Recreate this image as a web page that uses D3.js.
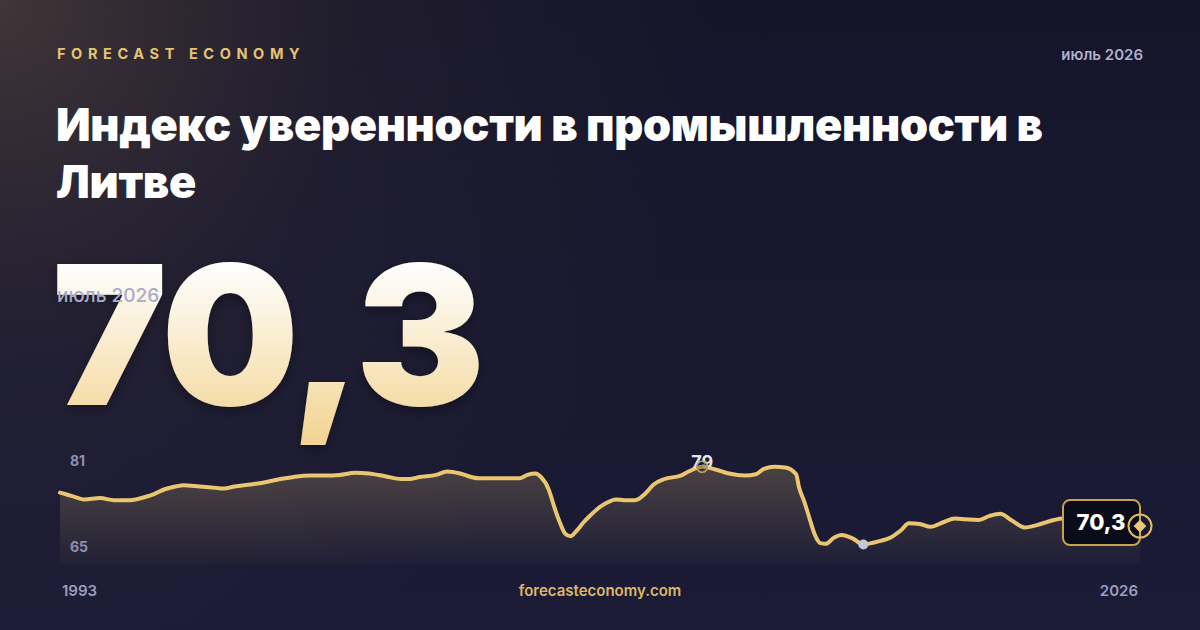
<!DOCTYPE html>
<html><head><meta charset="utf-8">
<script src="https://cdn.jsdelivr.net/npm/d3@7"></script>
<style>html,body{margin:0;padding:0;background:#15152a;}svg{display:block;}</style>
</head><body>
<div id="chart"></div>
<script>
const brand = "FORECAST ECONOMY";
const periodLabel = "июль 2026";
const titleLines = ["Индекс уверенности в промышленности в", "Литве"];
const siteLabel = "forecasteconomy.com";
const xLabels = ["1993", "2026"];
const yTickValues = [81, 65];

const dates = ["1993-01","1993-03","1993-07","1993-10","1994-04","1994-09","1995-03","1995-09","1995-12","1996-04","1996-08","1996-11","1997-05","1997-11","1998-02","1998-06","1998-12","1999-05","1999-11","2000-04","2000-10","2001-04","2001-09","2002-03","2002-08","2003-02","2003-08","2003-11","2004-03","2004-09","2005-01","2005-06","2005-10","2006-01","2006-09","2007-04","2007-07","2007-10","2007-12","2008-03","2008-05","2008-07","2008-09","2008-11","2009-01","2009-04","2009-06","2009-10","2009-12","2010-04","2010-07","2010-11","2011-03","2011-06","2011-10","2012-04","2012-07","2012-12","2013-05","2013-10","2014-04","2014-08","2014-11","2015-03","2015-07","2015-11","2015-12","2016-02","2016-04","2016-06","2016-08","2016-10","2017-01","2017-04","2017-08","2017-12","2018-04","2018-06","2018-10","2019-02","2019-05","2019-09","2020-01","2020-06","2020-10","2021-02","2021-07","2021-11","2022-03","2022-07","2022-12","2023-06","2023-11","2024-02","2026-07"];
const values = [75.2,75.0,74.5,74.2,74.4,74.1,74.1,74.6,75.0,75.7,76.1,76.3,76.1,75.9,75.8,76.1,76.4,76.7,77.2,77.5,77.7,77.7,77.8,78.1,78.0,77.6,77.2,77.2,77.5,77.8,78.3,78.0,77.5,77.3,77.3,77.3,77.8,78.0,77.5,75.6,73.1,70.9,69.2,68.8,69.5,70.9,71.7,73.1,73.6,74.2,74.1,74.1,75.1,76.4,77.2,77.7,78.3,79.0,78.6,78.0,77.7,77.9,78.7,79.0,78.9,77.9,76.1,73.9,71.4,69.0,67.8,67.7,68.6,69.0,68.5,67.6,67.9,68.1,68.6,69.7,70.7,70.6,70.2,70.9,71.4,71.3,71.2,71.8,72.1,71.2,70.1,70.6,71.2,71.4,70.3];

const W = 1200, H = 630;
const parse = d3.timeParse("%Y-%m");
const data = dates.map((d, i) => ({date: parse(d), value: values[i]}));
const fmt = v => (Number.isInteger(v) ? String(v) : v.toFixed(1)).replace(".", ",");
const latest = data[data.length - 1];
const FONT = "Inter, 'Noto Sans', sans-serif";

const svg = d3.select("#chart").append("svg").attr("width", W).attr("height", H);
const defs = svg.append("defs");

// background
const bg = defs.append("linearGradient").attr("id", "bgGrad").attr("x1", 0).attr("y1", 0).attr("x2", 0).attr("y2", 1);
bg.append("stop").attr("offset", 0).attr("stop-color", "#15152a");
bg.append("stop").attr("offset", 1).attr("stop-color", "#1b1b36");
const glow = defs.append("radialGradient").attr("id", "glow").attr("gradientUnits", "userSpaceOnUse")
  .attr("cx", 0).attr("cy", 0).attr("r", 720);
glow.append("stop").attr("offset", 0).attr("stop-color", "#b08a5a").attr("stop-opacity", 0.28);
glow.append("stop").attr("offset", 0.5).attr("stop-color", "#8a6a48").attr("stop-opacity", 0.08);
glow.append("stop").attr("offset", 1).attr("stop-color", "#8a6a48").attr("stop-opacity", 0);
svg.append("rect").attr("width", W).attr("height", H).attr("fill", "url(#bgGrad)");
svg.append("rect").attr("width", W).attr("height", H).attr("fill", "url(#glow)");

// header
svg.append("text").attr("x", 57).attr("y", 59).text(brand)
  .attr("font-family", FONT).attr("font-weight", 700).attr("font-size", 14.5)
  .attr("letter-spacing", "5.6px").attr("fill", "#e6c372");
svg.append("text").attr("x", 1143).attr("y", 60).attr("text-anchor", "end").text(periodLabel)
  .attr("font-family", FONT).attr("font-weight", 600).attr("font-size", 15)
  .attr("fill", "#b0b2cc");

// title
const title = svg.append("text").attr("font-family", FONT).attr("font-weight", 900)
  .attr("font-size", 45).attr("fill", "#ffffff").attr("letter-spacing", "-0.3px");
titleLines.forEach((t, i) => title.append("tspan").attr("x", 56).attr("y", 141 + i * 57).text(t));

// big number
const ng = defs.append("linearGradient").attr("id", "numGrad").attr("gradientUnits", "userSpaceOnUse")
  .attr("x1", 0).attr("y1", 262).attr("x2", 0).attr("y2", 438);
ng.append("stop").attr("offset", 0).attr("stop-color", "#ffffff");
ng.append("stop").attr("offset", 1).attr("stop-color", "#f2d595");
const shadow = defs.append("filter").attr("id", "numShadow").attr("x", "-10%").attr("y", "-10%").attr("width", "120%").attr("height", "130%");
shadow.append("feDropShadow").attr("dx", 0).attr("dy", 4).attr("stdDeviation", 6).attr("flood-color", "#000").attr("flood-opacity", 0.35);
svg.append("text").attr("x", 52).attr("y", 405).text(fmt(latest.value))
  .attr("font-family", FONT).attr("font-weight", 900).attr("font-size", 194)
  .attr("letter-spacing", "-3px").attr("fill", "url(#numGrad)").attr("filter", "url(#numShadow)");
svg.append("text").attr("x", 57).attr("y", 302).text(periodLabel)
  .attr("font-family", FONT).attr("font-weight", 500).attr("font-size", 19)
  .attr("fill", "#a9abc8");

// chart
const x = d3.scaleTime().domain(d3.extent(data, d => d.date)).range([60, 1140]);
const yMin = d3.min(values), yMax = d3.max(values);
const y = d3.scaleLinear().domain([yMin - 3.0, yMax + 2.45]).range([565, 450]);

const ag = defs.append("linearGradient").attr("id", "areaGrad").attr("gradientUnits", "userSpaceOnUse")
  .attr("x1", 0).attr("y1", 450).attr("x2", 0).attr("y2", 565);
ag.append("stop").attr("offset", 0).attr("stop-color", "#e8c372").attr("stop-opacity", 0.27);
ag.append("stop").attr("offset", 1).attr("stop-color", "#e8c372").attr("stop-opacity", 0.02);

const curve = d3.curveMonotoneX;
svg.append("path").datum(data)
  .attr("d", d3.area().x(d => x(d.date)).y0(565).y1(d => y(d.value)).curve(curve))
  .attr("fill", "url(#areaGrad)");
svg.append("path").datum(data)
  .attr("d", d3.line().x(d => x(d.date)).y(d => y(d.value)).curve(curve))
  .attr("fill", "none").attr("stroke", "#e9c66f").attr("stroke-width", 4)
  .attr("stroke-linejoin", "round").attr("stroke-linecap", "round");

// y labels
svg.selectAll("text.ytick").data(yTickValues).join("text").attr("class", "ytick")
  .attr("x", 70).attr("y", (d, i) => i === 0 ? y(d) + 13 : y(d) - 10).text(d => d)
  .attr("font-family", FONT).attr("font-weight", 700).attr("font-size", 14)
  .attr("fill", "#8d90b2");

// max marker
const iMax = d3.maxIndex(values), iMin = d3.minIndex(values);
const pMax = data[iMax], pMin = data[iMin];
svg.append("text").attr("x", x(pMax.date)).attr("y", y(pMax.value) + 1.5).attr("text-anchor", "middle")
  .text(fmt(pMax.value)).attr("font-family", FONT).attr("font-weight", 700)
  .attr("font-size", 18).attr("fill", "#e4e3ea");
svg.append("circle").attr("cx", x(pMax.date)).attr("cy", y(pMax.value)).attr("r", 5.5)
  .attr("fill", "rgba(30,25,40,0.35)").attr("stroke", "#c9a052").attr("stroke-width", 1.6);

// min marker
svg.append("circle").attr("cx", x(pMin.date)).attr("cy", y(pMin.value)).attr("r", 5)
  .attr("fill", "#c4c7dc");

// latest label box
const lx = x(latest.date), ly = y(latest.value);
svg.append("rect").attr("x", lx - 77).attr("y", ly - 26).attr("width", 77).attr("height", 45).attr("rx", 7)
  .attr("fill", "#0b0c1a").attr("stroke", "#c9a24e").attr("stroke-width", 2);
svg.append("text").attr("x", lx - 39).attr("y", ly + 4).attr("text-anchor", "middle").text(fmt(latest.value))
  .attr("font-family", FONT).attr("font-weight", 800).attr("font-size", 22)
  .attr("fill", "#ffffff");
svg.append("circle").attr("cx", lx).attr("cy", ly).attr("r", 11.5)
  .attr("fill", "none").attr("stroke", "#e2bb62").attr("stroke-width", 2);
svg.append("rect").attr("x", lx - 4.5).attr("y", ly - 4.5).attr("width", 9).attr("height", 9)
  .attr("transform", `rotate(45 ${lx} ${ly})`).attr("fill", "#ebc878");

// footer
const foot = {"font-family": FONT, "font-weight": 600, "font-size": 15};
const f1 = svg.append("text").attr("x", 62).attr("y", 596).text(xLabels[0]).attr("fill", "#9b9ebe");
const f2 = svg.append("text").attr("x", 1138).attr("y", 596).attr("text-anchor", "end").text(xLabels[1]).attr("fill", "#9b9ebe");
const f3 = svg.append("text").attr("x", 600).attr("y", 596).attr("text-anchor", "middle").text(siteLabel).attr("fill", "#dcb866");
[f1, f2, f3].forEach(t => Object.entries(foot).forEach(([k, v]) => t.attr(k, v)));
</script>
</body></html>
